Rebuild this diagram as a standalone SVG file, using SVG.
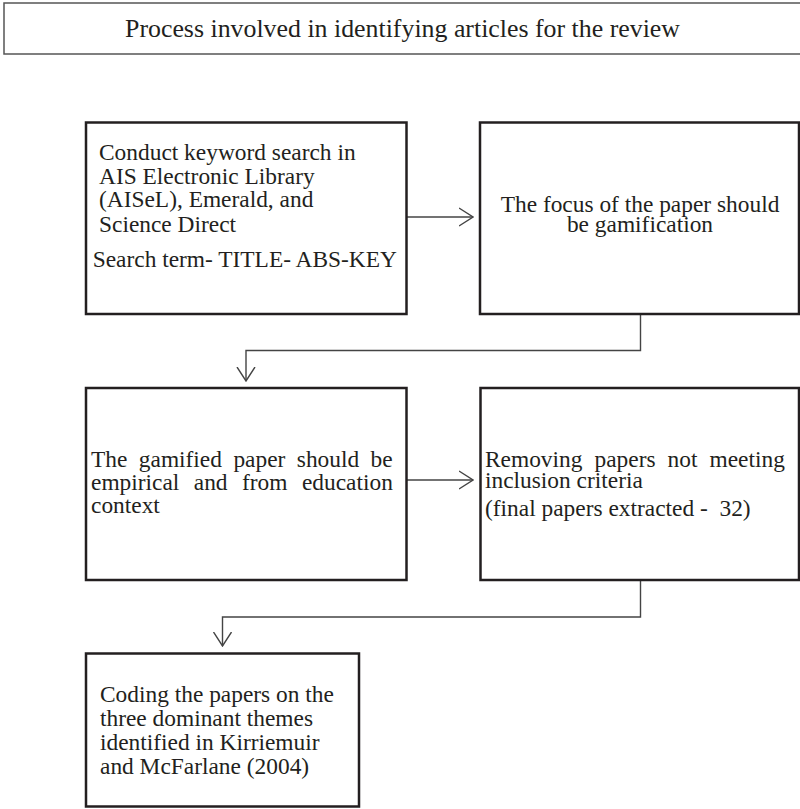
<svg xmlns="http://www.w3.org/2000/svg" width="800" height="809" viewBox="0 0 800 809">
<style>
  .box { fill: #ffffff; stroke: #231f20; stroke-width: 2.5; }
  .title-box { fill: #ffffff; stroke: #555555; stroke-width: 1.5; }
  .t { font-family: "Liberation Serif", "Times New Roman", serif; font-size: 23.4px; fill: #231f20; }
  .title { font-family: "Liberation Serif", "Times New Roman", serif; font-size: 25px; fill: #231f20; }
  .mid { text-anchor: middle; }
  .conn { fill: none; stroke: #444444; stroke-width: 1.4; }
  .pre { white-space: pre; }
</style>
<defs>
  <marker id="open" viewBox="0 0 15 20" refX="14.5" refY="10" markerWidth="15" markerHeight="20" markerUnits="userSpaceOnUse" orient="auto">
    <path d="M0.5,1 L14.5,10 L0.5,19" fill="none" stroke="#444444" stroke-width="1.4"/>
  </marker>
</defs>
<rect width="800" height="809" fill="#ffffff"/>

<g id="title">
  <rect class="title-box" x="4" y="3" width="802" height="51"/>
  <text class="title" x="125" y="36.5" textLength="555" lengthAdjust="spacingAndGlyphs">Process involved in identifying articles for the review</text>
</g>

<g id="connectors">
  <line class="conn" x1="407" y1="217" x2="473" y2="217" marker-end="url(#open)"/>
  <path class="conn" d="M640.5,315 V350.5 H246 V381" marker-end="url(#open)"/>
  <line class="conn" x1="407" y1="480" x2="473" y2="480" marker-end="url(#open)"/>
  <path class="conn" d="M640.5,581 V617 H222.5 V646" marker-end="url(#open)"/>
</g>

<g id="node-search">
  <rect class="box" x="86" y="122.5" width="320.5" height="191.5"/>
  <text class="t" x="99" y="160">Conduct keyword search in</text>
  <text class="t" x="99" y="184">AIS Electronic Library</text>
  <text class="t" x="99" y="207">(AISeL), Emerald, and</text>
  <text class="t" x="99" y="232">Science Direct</text>
  <text class="t" x="92.7" y="267">Search term- TITLE- ABS-KEY</text>
</g>

<g id="node-focus">
  <rect class="box" x="480" y="122.5" width="319" height="191.5"/>
  <text class="t mid" x="640" y="212">The focus of the paper should</text>
  <text class="t mid" x="640" y="232">be gamification</text>
</g>

<g id="node-empirical">
  <rect class="box" x="86" y="388" width="320.5" height="192"/>
  <text class="t" x="91" y="467" word-spacing="5.6">The gamified paper should be</text>
  <text class="t" x="91" y="490" word-spacing="8.6">empirical and from education</text>
  <text class="t" x="91" y="513">context</text>
</g>

<g id="node-removing">
  <rect class="box" x="480.5" y="388" width="318.5" height="192"/>
  <text class="t" x="485" y="467" word-spacing="6.2">Removing papers not meeting</text>
  <text class="t" x="485" y="488">inclusion criteria</text>
  <text class="t pre" x="485" y="516">(final papers extracted -  32)</text>
</g>

<g id="node-coding">
  <rect class="box" x="86" y="653.5" width="273" height="153"/>
  <text class="t" x="100" y="702">Coding the papers on the</text>
  <text class="t" x="100" y="726">three dominant themes</text>
  <text class="t" x="100" y="750">identified in Kirriemuir</text>
  <text class="t" x="100" y="774">and McFarlane (2004)</text>
</g>
</svg>
